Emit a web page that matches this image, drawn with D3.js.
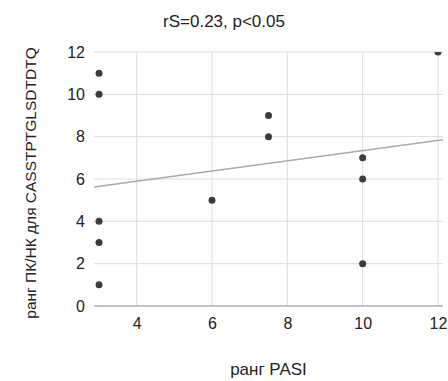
<!DOCTYPE html>
<html><head><meta charset="utf-8">
<script src="https://cdn.jsdelivr.net/npm/d3@7"></script>
<style>body{margin:0;background:#fff}text{font-family:"Liberation Sans",Arial,sans-serif}</style>
</head><body><svg id="c" width="448" height="381"></svg>
<script>
const pasiRank = [3, 3, 3, 3, 3, 6, 7.5, 7.5, 10, 10, 10, 12];
const pkRank   = [11, 10, 4, 3, 1, 5, 9, 8, 7, 6, 2, 12];
const xTicks = [4, 6, 8, 10, 12];
const yTicks = [0, 2, 4, 6, 8, 10, 12];
const title = "rS=0.23, p<0.05";
const xTitle = "ранг PASI";
const yTitle = "ранг ПК/НК для CASSTPTGLSDTDTQ";

const svg = d3.select("#c");
const L = 94, R = 443, T = 52, B = 306;
const x = d3.scaleLinear().domain([2.867, 12.133]).range([L, R]);
const y = d3.scaleLinear().domain([0, 12]).range([B, T]);
const FF = '"Liberation Sans",Arial,sans-serif';

svg.append("defs").append("clipPath").attr("id","clip")
  .append("rect").attr("x", L - 10).attr("y", T).attr("width", R - L + 20).attr("height", B - T + 10);

// horizontal grid
svg.append("g").selectAll("line").data(yTicks.filter(d => d !== 0)).join("line")
  .attr("x1", L).attr("x2", R).attr("y1", d => y(d)).attr("y2", d => y(d))
  .attr("stroke", "#dcdcdc").attr("stroke-width", 1);
// vertical grid
svg.append("g").selectAll("line").data(xTicks).join("line")
  .attr("x1", d => x(d)).attr("x2", d => x(d)).attr("y1", T).attr("y2", B)
  .attr("stroke", "#dcdcdc").attr("stroke-width", 1);
// baseline
svg.append("line").attr("x1", L).attr("x2", R).attr("y1", y(0)).attr("y2", y(0))
  .attr("stroke", "#888").attr("stroke-width", 1.2);

// y labels
const yAxis = d3.axisLeft(y).tickValues(yTicks).tickSize(0).tickPadding(0);
const gy = svg.append("g").attr("transform", `translate(${L - 9},0)`).call(yAxis);
gy.select(".domain").remove();
gy.selectAll("text").attr("font-size", 16).attr("fill", "#222").attr("font-family", FF);

// x labels
const xAxis = d3.axisBottom(x).tickValues(xTicks).tickSize(0).tickPadding(0);
const gx = svg.append("g").attr("transform", `translate(0,${B + 12})`).call(xAxis);
gx.select(".domain").remove();
gx.selectAll("text").attr("font-size", 16).attr("fill", "#222").attr("font-family", FF);

// trendline (least squares from data)
const n = pasiRank.length;
const mx = d3.mean(pasiRank), my = d3.mean(pkRank);
let sxy = 0, sxx = 0;
for (let i = 0; i < n; i++) { sxy += (pasiRank[i]-mx)*(pkRank[i]-my); sxx += (pasiRank[i]-mx)**2; }
const slope = sxy / sxx, icpt = my - slope * mx;
const [d0, d1] = x.domain();
svg.append("line")
  .attr("x1", x(d0)).attr("y1", y(icpt + slope*d0))
  .attr("x2", x(d1)).attr("y2", y(icpt + slope*d1))
  .attr("stroke", "#aaa").attr("stroke-width", 1.5);

// points
svg.append("g").attr("clip-path", "url(#clip)").selectAll("circle").data(pasiRank.map((v,i)=>[v,pkRank[i]])).join("circle")
  .attr("cx", d => x(d[0])).attr("cy", d => y(d[1])).attr("r", 3.5).attr("fill", "#3c3c3c");

// titles
svg.append("text").attr("x", 224).attr("y", 27).attr("text-anchor", "middle")
  .attr("font-size", 17).attr("fill", "#222").text(title);
svg.append("text").attr("x", 268.5).attr("y", 375).attr("text-anchor", "middle")
  .attr("font-size", 17).attr("fill", "#222").text(xTitle);
svg.append("text").attr("transform", `translate(36,183) rotate(-90)`).attr("text-anchor", "middle")
  .attr("font-size", 15.5).attr("fill", "#222").text(yTitle);
</script></body></html>
